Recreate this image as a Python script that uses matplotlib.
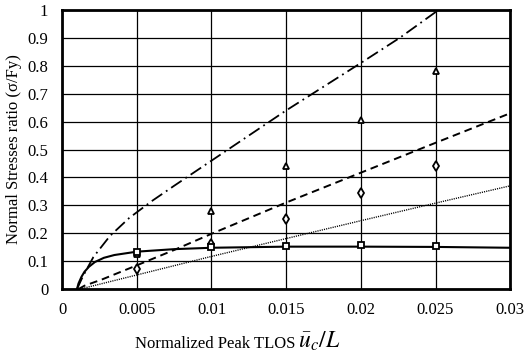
import numpy as np
import matplotlib
matplotlib.use('Agg')
import matplotlib.pyplot as plt

# marker data (normalized peak TLOS vs stress ratio)
x_pts = [0.005, 0.01, 0.015, 0.02, 0.025]
tri_vals = [0.125, 0.278, 0.44, 0.607, 0.783]
dia_vals = [0.072, 0.16, 0.252, 0.345, 0.441]
sq_vals = [0.134, 0.149, 0.155, 0.158, 0.155]

# curves
dashdot_x = [0.001, 0.0013, 0.00154, 0.0021, 0.0032, 0.0045, 0.006, 0.0075, 0.01, 0.0125, 0.015, 0.0175, 0.02, 0.0226, 0.0252]
dashdot_y = [0.0, 0.035, 0.06, 0.115, 0.19, 0.255, 0.315, 0.37, 0.46, 0.55, 0.64, 0.725, 0.81, 0.9, 1.0]
dashed_x = [0.0011, 0.0015, 0.0027, 0.005, 0.0075, 0.01, 0.015, 0.02, 0.025, 0.03]
dashed_y = [0.0, 0.012, 0.035, 0.085, 0.14, 0.198, 0.31, 0.417, 0.524, 0.63]
dotted_x = [0.0012, 0.01, 0.02, 0.025, 0.03]
dotted_y = [0.0, 0.117, 0.245, 0.308, 0.37]
solid_x = [0.001, 0.0011, 0.0013, 0.0015, 0.0018, 0.0022, 0.0028, 0.0035, 0.005, 0.0075, 0.01, 0.015, 0.02, 0.025, 0.03]
solid_y = [0.0, 0.02, 0.044, 0.062, 0.08, 0.097, 0.112, 0.122, 0.134, 0.143, 0.148, 0.152, 0.152, 0.151, 0.148]

xticks = [0, 0.005, 0.01, 0.015, 0.02, 0.025, 0.03]
xtick_labels = ['0', '0.005', '0.01', '0.015', '0.02', '0.025', '0.03']
yticks = [0, 0.1, 0.2, 0.3, 0.4, 0.5, 0.6, 0.7, 0.8, 0.9, 1.0]
ytick_labels = ['0', '0.1', '0.2', '0.3', '0.4', '0.5', '0.6', '0.7', '0.8', '0.9', '1']

plt.rcParams['font.family'] = ['Liberation Serif', 'DejaVu Serif']
plt.rcParams['mathtext.fontset'] = 'stix'

fig = plt.figure(figsize=(5.26, 3.56), dpi=100)
ax = fig.add_axes([0.118, 0.188, 0.852, 0.784])

ax.plot(dashdot_x, dashdot_y, color='black', lw=1.3, dashes=(7, 2.5, 1, 2.5))
ax.plot(dashed_x, dashed_y, color='black', lw=1.4, dashes=(4, 2.5))
ax.plot(dotted_x, dotted_y, color='black', lw=1.0, dashes=(0.8, 0.8))
ax.plot(solid_x, solid_y, color='black', lw=1.5)

mk = dict(color='black', mfc='white', mec='black', mew=1.3, ls='none', zorder=5)
ax.plot(x_pts, tri_vals, marker='^', ms=5, **mk)
ax.plot(x_pts, dia_vals, marker='d', ms=5.5, **mk)
ax.plot(x_pts, sq_vals, marker='s', ms=5, **mk)

ax.set_xlim(0, 0.03)
ax.set_ylim(0, 1)
ax.set_xticks(xticks)
ax.set_xticklabels(xtick_labels)
ax.set_yticks(yticks)
ax.set_yticklabels(ytick_labels)
ax.tick_params(length=0, labelsize=12, pad=9)
ax.tick_params(axis='y', pad=10)
ax.grid(True, color='black', lw=0.9)
ax.set_axisbelow(True)
for s in ax.spines.values():
    s.set_linewidth(2)

ax.set_ylabel('Normal Stresses ratio (σ/Fy)', fontsize=12, labelpad=4)
fig.text(0.562, 0.022, 'Normalized Peak TLOS', fontsize=12, ha='right', va='baseline')
fig.text(0.567, 0.022, r'$\bar{u}_c/L$', fontsize=17, ha='left', va='baseline')

fig.savefig('out.png', dpi=100)
